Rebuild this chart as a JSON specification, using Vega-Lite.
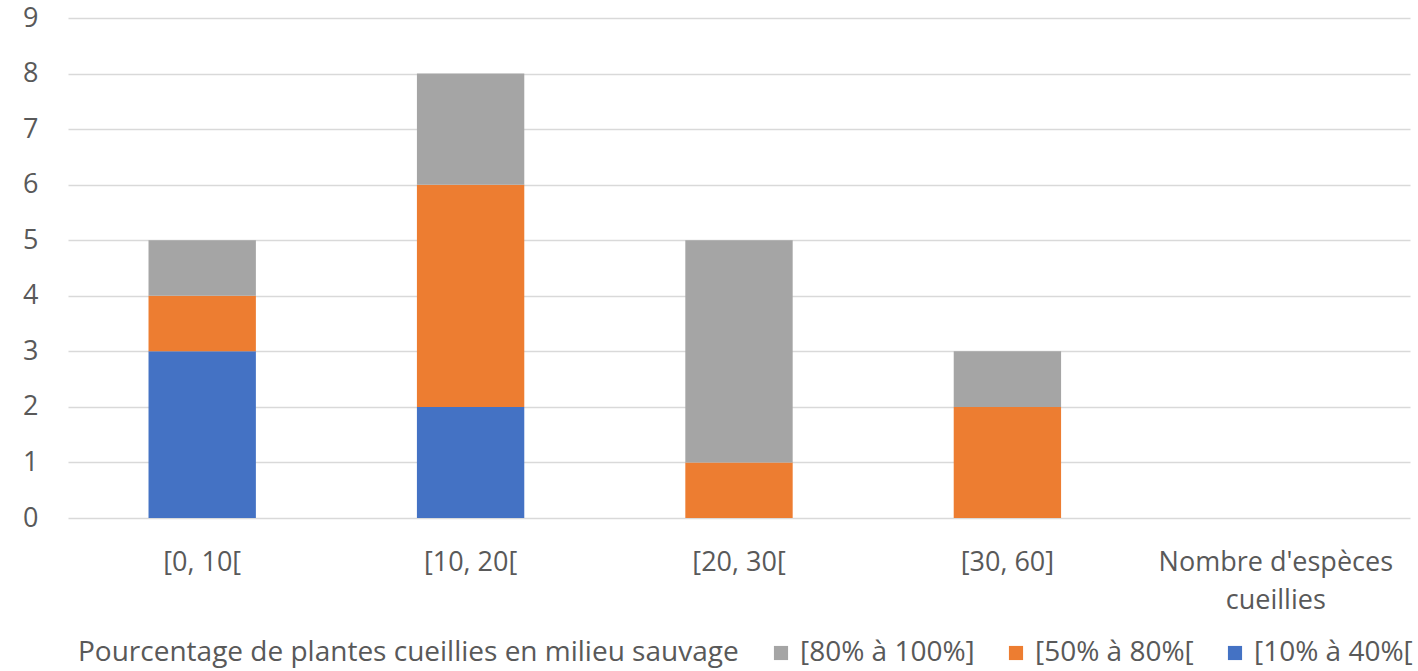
{
  "$schema": "https://vega.github.io/schema/vega-lite/v6.json",
  "width": 1342,
  "height": 500,
  "autosize": {"type": "none"},
  "padding": {"left": 68, "top": 18, "right": 8, "bottom": 153},
  "background": "white",
  "config": {
    "view": {"stroke": null},
    "font": "Open Sans",
    "axis": {"labelFont": "Open Sans", "labelColor": "#595959", "labelFontSize": 27},
    "legend": {"labelFont": "Open Sans", "titleFont": "Open Sans"}
  },
  "data": {
    "values": [
      {"classe": "[0, 10[", "serie": "[10% à 40%[", "n": 3},
      {"classe": "[0, 10[", "serie": "[50% à 80%[", "n": 1},
      {"classe": "[0, 10[", "serie": "[80% à 100%]", "n": 1},
      {"classe": "[10, 20[", "serie": "[10% à 40%[", "n": 2},
      {"classe": "[10, 20[", "serie": "[50% à 80%[", "n": 4},
      {"classe": "[10, 20[", "serie": "[80% à 100%]", "n": 2},
      {"classe": "[20, 30[", "serie": "[50% à 80%[", "n": 1},
      {"classe": "[20, 30[", "serie": "[80% à 100%]", "n": 4},
      {"classe": "[30, 60]", "serie": "[50% à 80%[", "n": 2},
      {"classe": "[30, 60]", "serie": "[80% à 100%]", "n": 1}
    ]
  },
  "mark": {"type": "bar"},
  "encoding": {
    "x": {
      "field": "classe",
      "type": "nominal",
      "sort": null,
      "scale": {
        "domain": ["[0, 10[", "[10, 20[", "[20, 30[", "[30, 60]", "Nombre d'espèces cueillies"],
        "paddingInner": 0.6,
        "paddingOuter": 0.3
      },
      "axis": {
        "title": null,
        "labelAngle": 0,
        "ticks": false,
        "domain": false,
        "labelPadding": 31,
        "labelLineHeight": 38,
        "labelLimit": 400,
        "labelExpr": "length(datum.label) > 12 ? [slice(datum.label, 0, 16), slice(datum.label, 17)] : datum.label"
      }
    },
    "y": {
      "field": "n",
      "type": "quantitative",
      "aggregate": "sum",
      "stack": "zero",
      "scale": {"domain": [0, 9], "nice": false},
      "axis": {
        "title": null,
        "values": [0, 1, 2, 3, 4, 5, 6, 7, 8, 9],
        "ticks": false,
        "domain": false,
        "labelPadding": 30,
        "gridColor": "#d9d9d9",
        "gridWidth": 1.5
      }
    },
    "color": {
      "field": "serie",
      "type": "nominal",
      "scale": {
        "domain": ["[80% à 100%]", "[50% à 80%[", "[10% à 40%["],
        "range": ["#A5A5A5", "#ED7D31", "#4472C4"]
      },
      "legend": {
        "title": "Pourcentage de plantes cueillies en milieu sauvage",
        "orient": "none",
        "legendX": 10,
        "legendY": 621,
        "direction": "horizontal",
        "titleOrient": "left",
        "titleFontSize": 28,
        "titleFontWeight": "normal",
        "titleColor": "#595959",
        "titlePadding": 28,
        "titleBaseline": "middle",
        "titleLimit": 900,
        "labelFontSize": 28,
        "labelColor": "#595959",
        "labelOffset": 5,
        "symbolType": "square",
        "symbolSize": 200,
        "symbolStrokeWidth": 0,
        "columnPadding": 27,
        "labelLimit": 400
      }
    },
    "order": {"field": "serie", "sort": "ascending"}
  }
}
